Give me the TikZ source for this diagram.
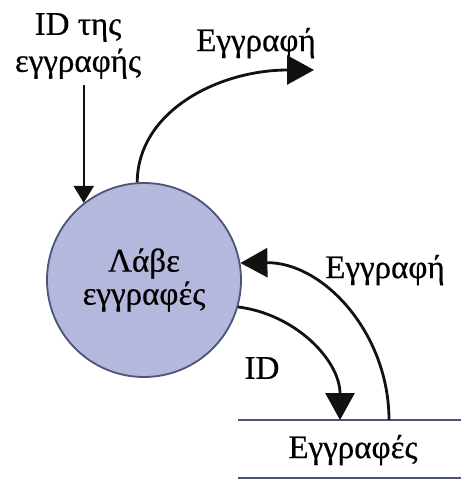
\documentclass[tikz,border=0pt]{standalone}
\usepackage{fontspec}
\setmainfont{Liberation Serif}[FakeBold=0.6]
\usetikzlibrary{
  positioning,
  arrows.meta,
  calc,
}
\definecolor{border}{HTML}{4A5577}
\definecolor{fillProc}{HTML}{B5B8DD}
\definecolor{arrowCol}{HTML}{111111}
\tikzset{
  procnode/.style={
    circle, draw=border, fill=fillProc, line width=1.8pt,
    minimum size=194pt, inner sep=0pt, align=center,
    font=\fontsize{33}{33}\selectfont,
  },
  label/.style={font=\fontsize{33}{37}\selectfont, align=center, inner sep=0pt},
  storeline/.style={draw=border, line width=2pt},
  arrow/.style={-{Triangle[length=17pt, width=20pt]}, arrowCol, line width=2.4pt},
  bigarrow/.style={-{Triangle[length=27pt, width=29pt]}, arrowCol, line width=2.8pt},
}

\begin{document}
\begin{tikzpicture}[x=1pt, y=-1pt]

  \useasboundingbox (0, 0) rectangle (461, 480);

  % Process
  \node[procnode] (proc) at (144, 280) {Λάβε\\εγγραφές};

  % Input record ID
  \node[label] (idlbl) at (78, 46) {ID της\\εγγραφής};
  \draw[arrow] (idlbl.south -| proc.128) ++(0, 6) -- (proc.128);

  % Output record
  \coordinate (outend) at (314, 70);
  \node[label] (outlbl) at (256, 43) {Εγγραφή};
  \draw[bigarrow] (proc.94) .. controls (138, 110) and (220, 70) .. (outend);

  % Data store
  \node[label] (store) at (353, 450) {Εγγραφές};
  \coordinate (stleft) at (238, 420);
  \coordinate (stright) at (461, 420);
  \draw[storeline] (stleft) -- (stright);
  \draw[storeline] (stleft |- 0, 478) -- (stright |- 0, 478);
  \coordinate (stin) at (340, 420);
  \coordinate (stout) at (389, 420);

  % ID to store
  \node[label] (idflow) at (262, 368) {ID};
  \draw[bigarrow] (proc.-16) .. controls (295, 314) and (340, 360) .. (stin);

  % Record from store
  \node[label] (recflow) at (385, 270) {Εγγραφή};
  \draw[bigarrow] (stout) .. controls (389, 333) and (323, 262) .. (proc.10);

\end{tikzpicture}
\end{document}
